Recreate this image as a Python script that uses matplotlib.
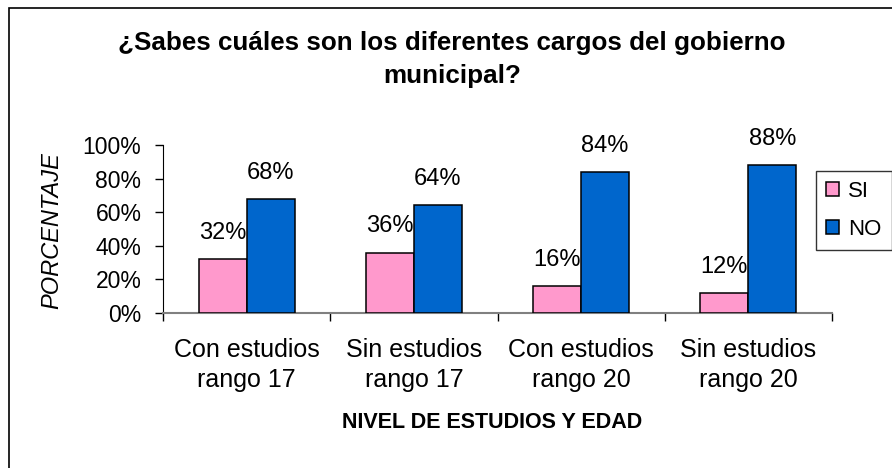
import matplotlib.pyplot as plt
import matplotlib.patches as patches
import numpy as np

# data
categorias = ["Con estudios\nrango 17", "Sin estudios\nrango 17",
              "Con estudios\nrango 20", "Sin estudios\nrango 20"]
si = [32, 36, 16, 12]
no = [68, 64, 84, 88]
series = ["SI", "NO"]
y_ticks = [0, 20, 40, 60, 80, 100]

plt.rcParams['font.family'] = ['Liberation Sans', 'DejaVu Sans']

W, H = 892, 468
fig = plt.figure(figsize=(W / 100, H / 100), dpi=100)

# axes placed in pixels like the original
ax = fig.add_axes([163 / W, 1 - 313 / H, (832 - 163) / W, (313 - 145) / H])

x = np.arange(len(categorias))
ancho = 0.287
b1 = ax.bar(x - ancho / 2, si, ancho, color="#FF99CC", edgecolor="black",
            linewidth=1.1, label=series[0], zorder=3)
b2 = ax.bar(x + ancho / 2, no, ancho, color="#0066CC", edgecolor="black",
            linewidth=1.1, label=series[1], zorder=3)

# value labels above each bar
for barras, vals in [(b1, si), (b2, no)]:
    for rect, v in zip(barras, vals):
        ax.annotate(f"{v}%", (rect.get_x() + rect.get_width() / 2, v),
                    xytext=(0, 14.5), textcoords="offset points",
                    ha="center", va="baseline", fontsize=17)

ax.set_xlim(-0.5, len(categorias) - 0.5)
ax.set_ylim(0, 100)

# x ticks at category boundaries, labels at centers
ax.set_xticks(np.arange(len(categorias) + 1) - 0.5)
ax.set_xticklabels([])
ax.set_xticks(x, minor=True)
ax.set_xticklabels(categorias, minor=True, fontsize=18, linespacing=1.32)
ax.tick_params(axis="x", which="major", direction="out", length=6, width=1)
ax.tick_params(axis="x", which="minor", length=0, pad=18)

ax.set_yticks(y_ticks)
ax.set_yticklabels([f"{t}%" for t in y_ticks], fontsize=16.5)
ax.tick_params(axis="y", direction="out", length=6, width=1, pad=9.5)

for lado in ["top", "right"]:
    ax.spines[lado].set_visible(False)
ax.spines["left"].set_color("black")
ax.spines["bottom"].set_color("#808080")
ax.spines["bottom"].set_linewidth(1.5)

# titles
fig.text(452 / W, 1 - 50 / H, "¿Sabes cuáles son los diferentes cargos del gobierno",
         ha="center", va="baseline", fontsize=18.75, fontweight="bold")
fig.text(452 / W, 1 - 83 / H, "municipal?",
         ha="center", va="baseline", fontsize=18.75, fontweight="bold")
fig.text(52 / W, 1 - 231 / H, "PORCENTAJE", rotation=90, ha="center",
         va="center", fontsize=17, style="italic")
fig.text(492 / W, 1 - 423 / H, "NIVEL DE ESTUDIOS Y EDAD", ha="center",
         va="center", fontsize=15.5, fontweight="bold")

# legend box at the right
leg = fig.legend(handles=[b1, b2], labels=series, loc="upper left",
                 bbox_to_anchor=(816 / W, 1 - 171 / H), fontsize=16,
                 frameon=True, fancybox=False, shadow=False,
                 handlelength=0.6, handleheight=0.6, handletextpad=0.4,
                 borderpad=0.45, labelspacing=0.75, borderaxespad=0)
leg.get_frame().set_edgecolor("black")
leg.get_frame().set_linewidth(1)

# outer chart border (cropped at right and bottom)
borde = patches.Rectangle((9 / W, -0.1), 1.2, 1 - 8 / H + 0.1,
                          transform=fig.transFigure, fill=False,
                          edgecolor="black", linewidth=1.2)
fig.patches.append(borde)

fig.savefig("out.png", dpi=100)
